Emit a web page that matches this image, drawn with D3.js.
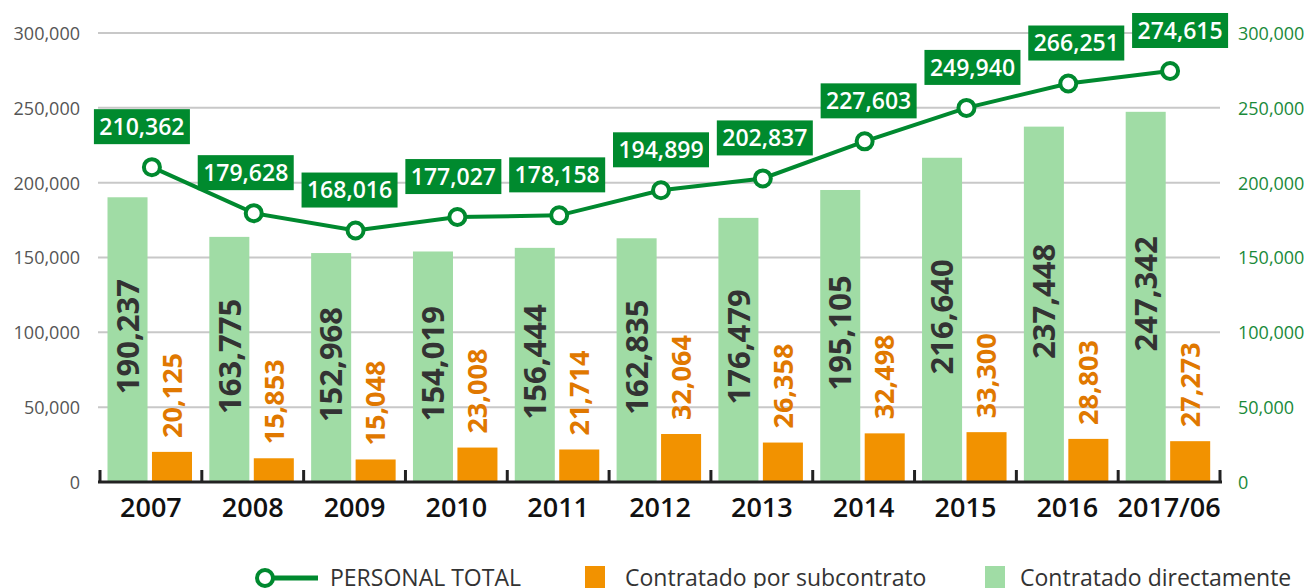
<!DOCTYPE html>
<html>
<head>
<meta charset="utf-8">
<script src="https://cdn.jsdelivr.net/npm/d3@7"></script>
<style>
  body { margin: 0; background: #fff; }
  svg { display: block; font-family: "Open Sans", "Noto Sans", sans-serif; }
</style>
</head>
<body>
<svg id="chart" width="1313" height="588"></svg>
<script>
const years = ["2007", "2008", "2009", "2010", "2011", "2012", "2013", "2014", "2015", "2016", "2017/06"];
const personal_total = [210362, 179628, 168016, 177027, 178158, 194899, 202837, 227603, 249940, 266251, 274615];
const subcontrato = [20125, 15853, 15048, 23008, 21714, 32064, 26358, 32498, 33300, 28803, 27273];
const directo = [190237, 163775, 152968, 154019, 156444, 162835, 176479, 195105, 216640, 237448, 247342];
const y_ticks = [0, 50000, 100000, 150000, 200000, 250000, 300000];

const legend_items = ["PERSONAL TOTAL", "Contratado por subcontrato", "Contratado directamente"];

const colors = {
  line: "#00892f",
  direct: "#a0dca5",
  sub: "#f29200",
  sub_text: "#e07800",
  grid: "#c8c8c8",
};

let svg = d3.select("#chart");

let plot = { left: 100, right: 1220, top: 33, bottom: 482 };

let x = d3.scaleBand()
  .domain(years)
  .range([plot.left, plot.right]);

let x_sub = d3.scaleBand()
  .domain(["directo", "sub"])
  .range([7.5, 92])
  .paddingInner(0.1);

let y = d3.scaleLinear()
  .domain([0, 300000])
  .range([plot.bottom, plot.top]);

let fmt = d3.format(",");

// grid
svg.append("g")
  .selectAll("line")
  .data(y_ticks.filter(d => d > 0))
  .join("line")
  .attr("x1", plot.left - 2)
  .attr("x2", plot.right)
  .attr("y1", d => y(d))
  .attr("y2", d => y(d))
  .attr("stroke", colors.grid)
  .attr("stroke-width", 2);

// left axis
let axis_left = svg.append("g")
  .attr("transform", "translate(80,0)")
  .call(d3.axisLeft(y).tickValues(y_ticks).tickSize(0).tickFormat(fmt));
axis_left.select(".domain").remove();
axis_left.selectAll("text")
  .attr("x", 0)
  .attr("dy", "0.36em")
  .style("font-size", "18px")
  .style("font-family", "\"Open Sans\", sans-serif")
  .attr("fill", "#555");

// right axis
let axis_right = svg.append("g")
  .attr("transform", "translate(1238,0)")
  .call(d3.axisRight(y).tickValues(y_ticks).tickSize(0).tickFormat(fmt));
axis_right.select(".domain").remove();
axis_right.selectAll("text")
  .attr("x", 0)
  .attr("dy", "0.36em")
  .style("font-size", "18px")
  .style("font-family", "\"Open Sans\", sans-serif")
  .attr("fill", "#1a8a3a");

// bars
let groups = svg.append("g")
  .selectAll("g")
  .data(years)
  .join("g")
  .attr("transform", d => "translate(" + x(d) + ",0)");

groups.append("rect")
  .attr("x", x_sub("directo"))
  .attr("width", x_sub.bandwidth())
  .attr("y", (d, i) => y(directo[i]))
  .attr("height", (d, i) => y(0) - y(directo[i]))
  .attr("fill", colors.direct);

groups.append("rect")
  .attr("x", x_sub("sub"))
  .attr("width", x_sub.bandwidth())
  .attr("y", (d, i) => y(subcontrato[i]))
  .attr("height", (d, i) => y(0) - y(subcontrato[i]))
  .attr("fill", colors.sub);

// rotated bar labels
groups.append("text")
  .attr("transform", (d, i) => "translate(" + (x_sub("directo") + x_sub.bandwidth() / 2) + "," + ((y(directo[i]) + y(0)) / 2 - 3) + ") rotate(-90)")
  .attr("text-anchor", "middle")
  .attr("dy", "0.36em")
  .style("font-size", "31px")
  .style("font-weight", 700)
  .attr("fill", "#333")
  .text((d, i) => fmt(directo[i]));

groups.append("text")
  .attr("transform", (d, i) => "translate(" + (x_sub("sub") + x_sub.bandwidth() / 2) + "," + (y(subcontrato[i]) - 14) + ") rotate(-90)")
  .attr("text-anchor", "start")
  .attr("dy", "0.36em")
  .style("font-size", "27px")
  .style("font-weight", 700)
  .attr("fill", colors.sub_text)
  .text((d, i) => fmt(subcontrato[i]));

// x axis
svg.append("line")
  .attr("x1", plot.left - 2)
  .attr("x2", plot.right + 2)
  .attr("y1", y(0))
  .attr("y2", y(0))
  .attr("stroke", "#222")
  .attr("stroke-width", 3);

svg.append("g")
  .selectAll("line")
  .data(years.map(d => x(d)).concat([plot.right]))
  .join("line")
  .attr("x1", d => d)
  .attr("x2", d => d)
  .attr("y1", y(0))
  .attr("y2", y(0) - 12)
  .attr("stroke", "#222")
  .attr("stroke-width", 3);

let axis_bottom = svg.append("g")
  .attr("transform", "translate(0," + y(0) + ")")
  .call(d3.axisBottom(x).tickSize(0));
axis_bottom.select(".domain").remove();
axis_bottom.selectAll("text")
  .attr("y", 35)
  .attr("dy", 0)
  .style("font-size", "27px")
  .style("font-weight", 600)
  .style("font-family", "\"Open Sans\", sans-serif")
  .attr("fill", "#111");

// total line
let cx = d => x(d) + x.bandwidth() / 2 + 1;

let line = d3.line()
  .x(d => cx(d))
  .y((d, i) => y(personal_total[i]));

svg.append("path")
  .datum(years)
  .attr("d", line)
  .attr("fill", "none")
  .attr("stroke", colors.line)
  .attr("stroke-width", 4);

svg.append("g")
  .selectAll("circle")
  .data(years)
  .join("circle")
  .attr("cx", d => cx(d))
  .attr("cy", (d, i) => y(personal_total[i]))
  .attr("r", 8)
  .attr("fill", "#fff")
  .attr("stroke", colors.line)
  .attr("stroke-width", 4);

// value boxes
let boxes = svg.append("g")
  .selectAll("g")
  .data(years)
  .join("g")
  .attr("transform", (d, i) => "translate(" + (cx(d) + 2 * (i - 5)) + "," + (y(personal_total[i]) - 23 - 17.5) + ")");

boxes.append("rect")
  .attr("x", -48)
  .attr("y", -17.5)
  .attr("width", 96)
  .attr("height", 35)
  .attr("fill", "#008a2e");

boxes.append("text")
  .attr("text-anchor", "middle")
  .attr("dy", "0.36em")
  .style("font-size", "23px")
  .style("font-weight", 600)
  .attr("fill", "#fff")
  .text((d, i) => fmt(personal_total[i]));

// legend
let legend = svg.append("g");

legend.append("line")
  .attr("x1", 265).attr("x2", 318)
  .attr("y1", 578).attr("y2", 578)
  .attr("stroke", colors.line)
  .attr("stroke-width", 5);
legend.append("circle")
  .attr("cx", 265).attr("cy", 578).attr("r", 8)
  .attr("fill", "#fff")
  .attr("stroke", colors.line)
  .attr("stroke-width", 4);
legend.append("rect")
  .attr("x", 585).attr("y", 566)
  .attr("width", 20).attr("height", 24)
  .attr("fill", colors.sub);
legend.append("rect")
  .attr("x", 985).attr("y", 566)
  .attr("width", 20).attr("height", 24)
  .attr("fill", colors.direct);

legend.selectAll("text")
  .data(legend_items)
  .join("text")
  .attr("x", (d, i) => [330, 625, 1020][i])
  .attr("y", 586)
  .style("font-size", "23px")
  .attr("fill", "#333")
  .text(d => d);
</script>
</body>
</html>
